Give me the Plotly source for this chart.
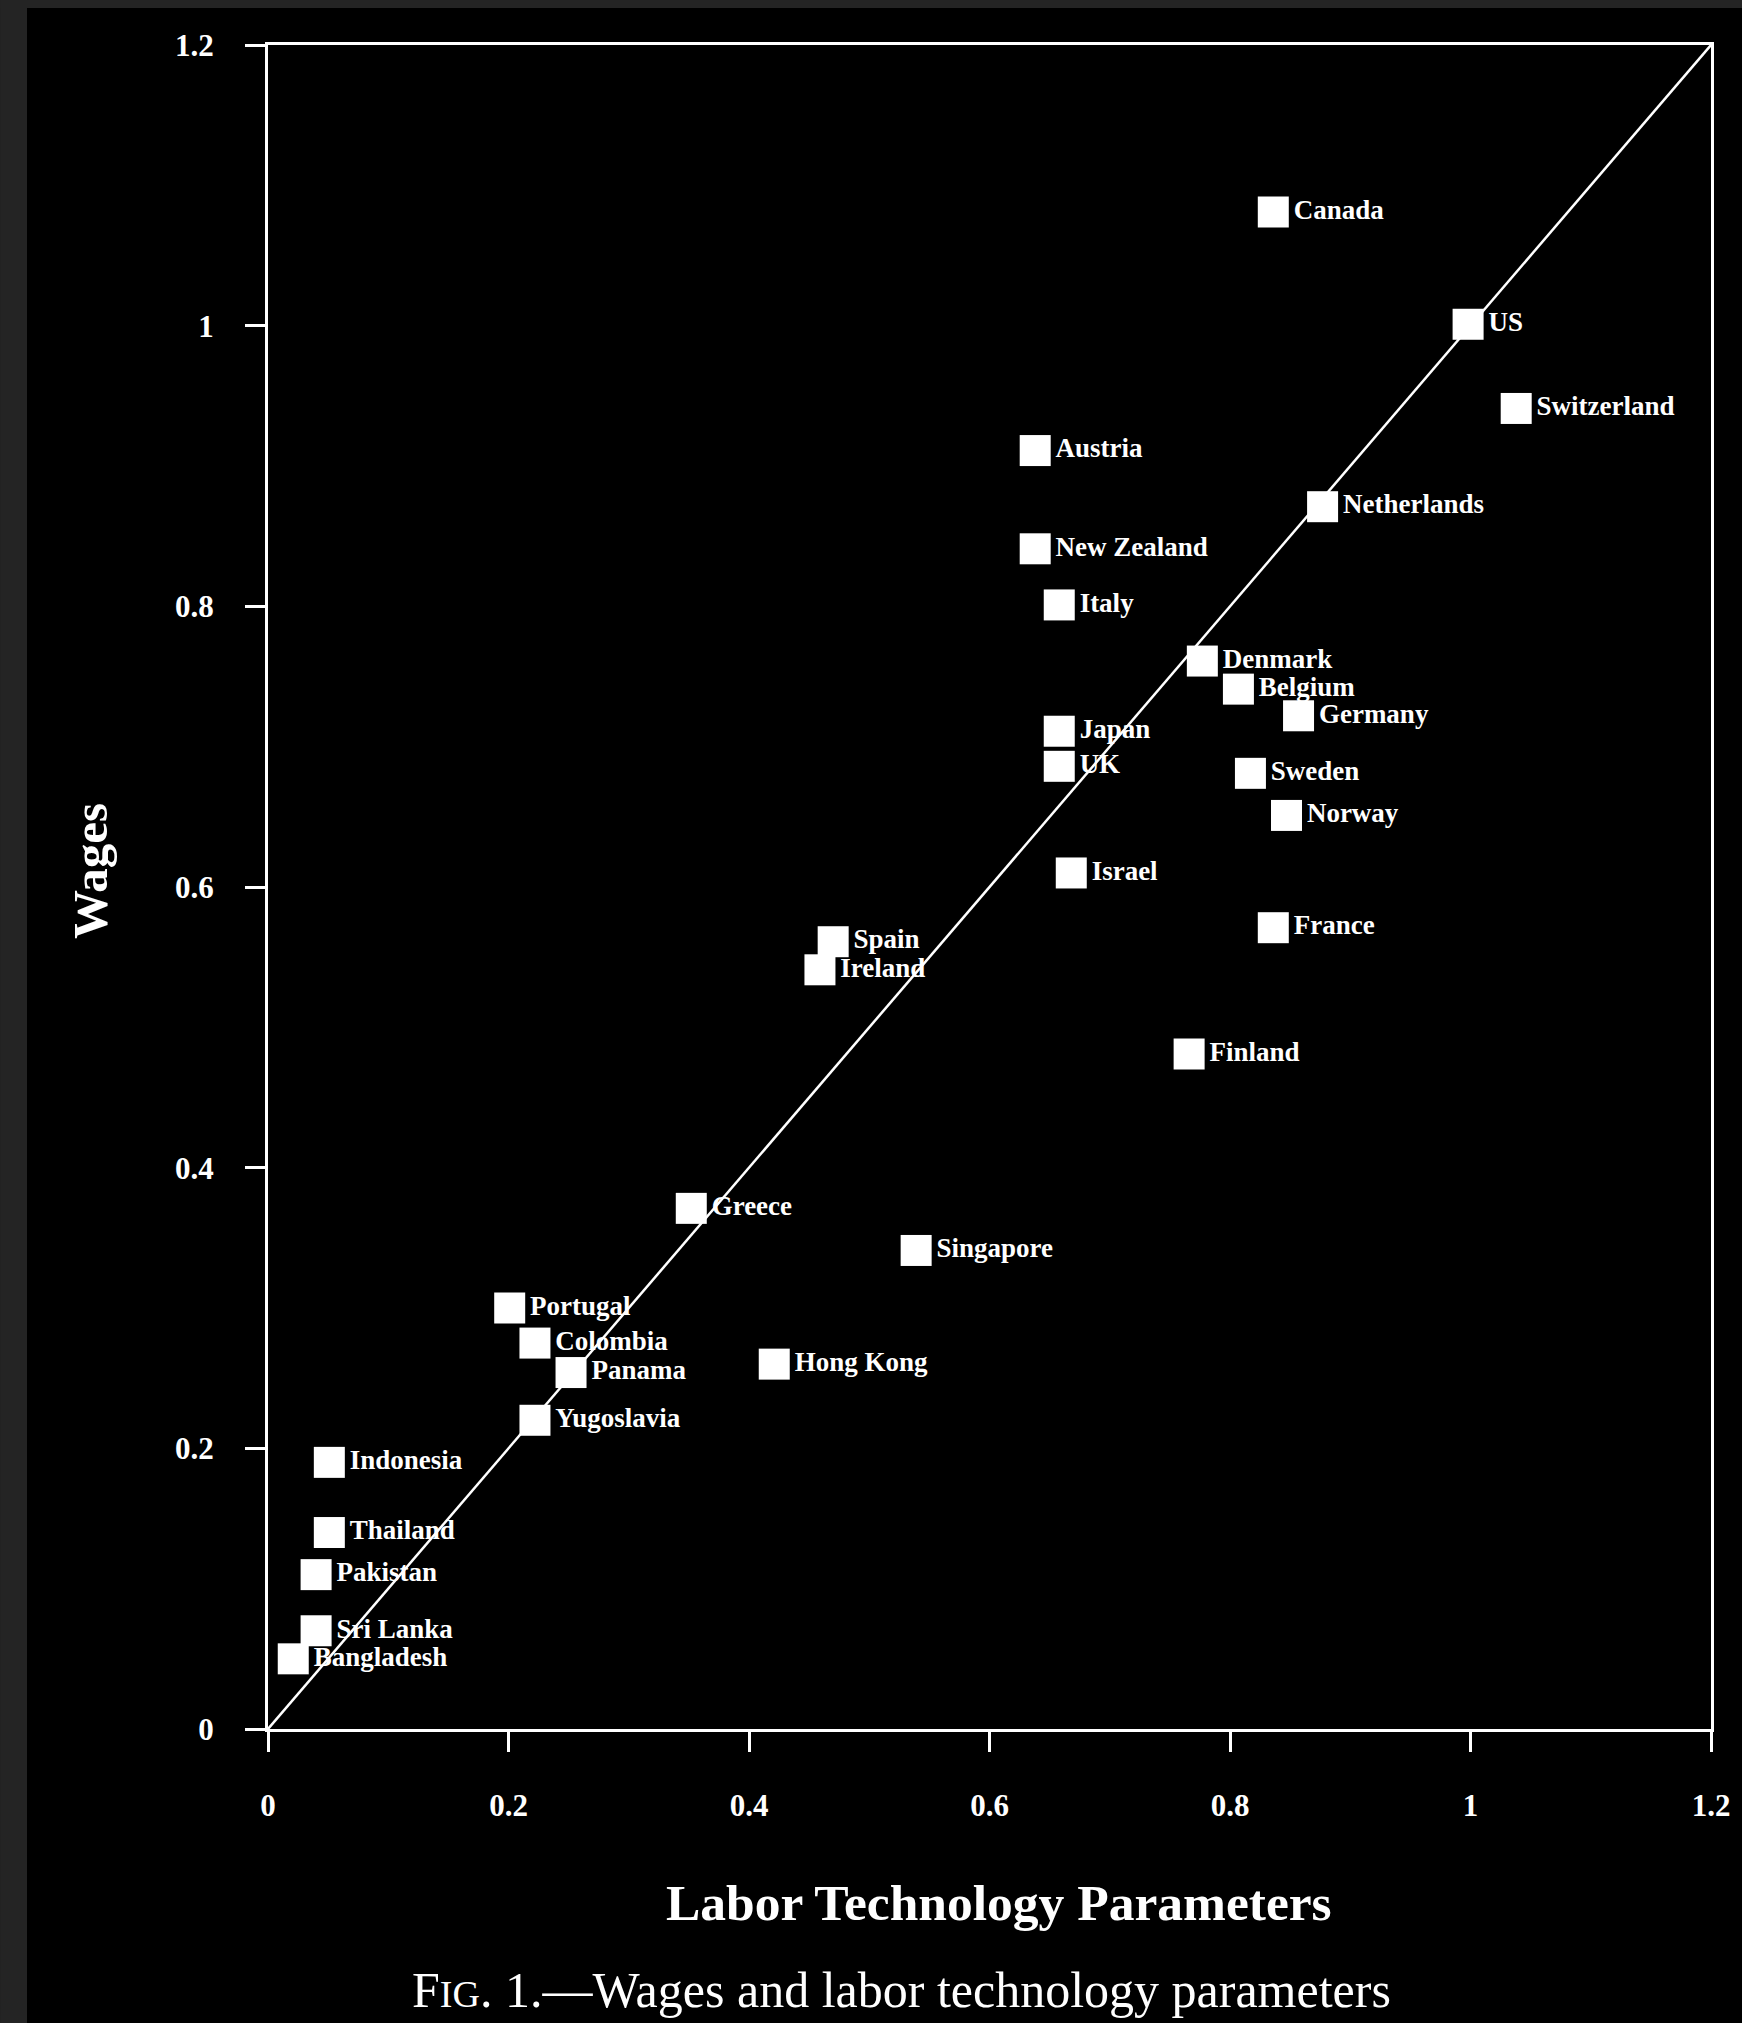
import plotly.graph_objects as go

countries = ["Canada", "US", "Switzerland", "Austria", "Netherlands", "New Zealand",
             "Italy", "Denmark", "Belgium", "Germany", "Japan", "UK", "Sweden",
             "Norway", "Israel", "France", "Spain", "Ireland", "Finland", "Greece",
             "Singapore", "Portugal", "Colombia", "Panama", "Hong Kong", "Yugoslavia",
             "Indonesia", "Thailand", "Pakistan", "Sri Lanka", "Bangladesh"]
labor_tech = [0.836, 0.998, 1.038, 0.638, 0.877, 0.638,
              0.658, 0.777, 0.807, 0.857, 0.658, 0.658, 0.817,
              0.847, 0.668, 0.836, 0.470, 0.459, 0.766, 0.352,
              0.539, 0.201, 0.222, 0.252, 0.421, 0.222,
              0.051, 0.051, 0.040, 0.040, 0.021]
wages = [1.081, 1.001, 0.941, 0.911, 0.871, 0.841,
         0.801, 0.761, 0.741, 0.722, 0.711, 0.686, 0.681,
         0.651, 0.610, 0.571, 0.561, 0.541, 0.481, 0.371,
         0.341, 0.300, 0.275, 0.254, 0.260, 0.220,
         0.190, 0.140, 0.110, 0.070, 0.050]

diag_x = [0, 1.2]
diag_y = [0, 1.2]

tick_vals = [0, 0.2, 0.4, 0.6, 0.8, 1, 1.2]
tick_text = ["0", "0.2", "0.4", "0.6", "0.8", "1", "1.2"]

x_title = "Labor Technology Parameters"
y_title = "Wages"
caption = "F<span style='font-size:38px'>IG</span>. 1.—Wages and labor technology parameters"

SERIF = "Liberation Serif, Times New Roman, serif"
FG = "white"

fig = go.Figure()
fig.add_trace(go.Scatter(x=diag_x, y=diag_y, mode="lines",
                         line=dict(color=FG, width=2.5), hoverinfo="skip",
                         showlegend=False))
fig.add_trace(go.Scatter(x=labor_tech, y=wages, mode="markers+text",
                         text=countries, textposition="middle right",
                         textfont=dict(family=SERIF, size=27, color=FG, weight="bold"),
                         marker=dict(symbol="square", size=31, color=FG,
                                     line=dict(width=0)),
                         showlegend=False))

axis_common = dict(range=[0, 1.2], tickvals=tick_vals, ticktext=tick_text,
                   showgrid=False, zeroline=False, showline=True, linecolor=FG,
                   linewidth=3, mirror=True, ticks="outside", ticklen=20,
                   tickwidth=2.5, tickcolor=FG,
                   tickfont=dict(family=SERIF, size=31, color=FG, weight="bold"))

fig.update_layout(
    width=1742, height=2023,
    margin=dict(l=268, r=31, t=45, b=294),
    paper_bgcolor="black", plot_bgcolor="black",
    xaxis=dict(**axis_common, ticklabelstandoff=27),
    yaxis=dict(**axis_common, ticklabelstandoff=25),
    xaxis2=dict(range=[0, 1.2], overlaying="x", anchor="y", side="bottom",
                tickvals=tick_vals, ticks="inside", ticklen=20, tickwidth=2.5,
                tickcolor=FG, showticklabels=False, showgrid=False,
                zeroline=False, showline=False),
    yaxis2=dict(range=[0, 1.2], overlaying="y", anchor="x", side="left",
                tickvals=tick_vals, ticks="inside", ticklen=20, tickwidth=2.5,
                tickcolor=FG, showticklabels=False, showgrid=False,
                zeroline=False, showline=False),
    showlegend=False,
    annotations=[
        dict(text=y_title, xref="paper", yref="paper", x=-0.1234, y=0.5095,
             xanchor="center", yanchor="middle", textangle=-90, showarrow=False,
             font=dict(family=SERIF, size=49, color=FG, weight="bold")),
        dict(text=x_title, xref="paper", yref="paper", x=0.5066, y=-0.1033,
             xanchor="center", yanchor="middle", showarrow=False,
             font=dict(family=SERIF, size=51.5, color=FG, weight="bold")),
        dict(text=caption, xref="paper", yref="paper", x=0.4387, y=-0.155,
             xanchor="center", yanchor="middle", showarrow=False,
             font=dict(family=SERIF, size=50, color=FG)),
    ],
    shapes=[
        dict(type="rect", xref="paper", yref="paper", x0=-0.1857, x1=-0.1670,
             y0=-0.1746, y1=1.0267, fillcolor="#242424", line=dict(width=0)),
        dict(type="rect", xref="paper", yref="paper", x0=-0.1857, x1=1.0215,
             y0=1.0220, y1=1.0267, fillcolor="#242424", line=dict(width=0)),
    ],
)

fig.write_html("out.html")
